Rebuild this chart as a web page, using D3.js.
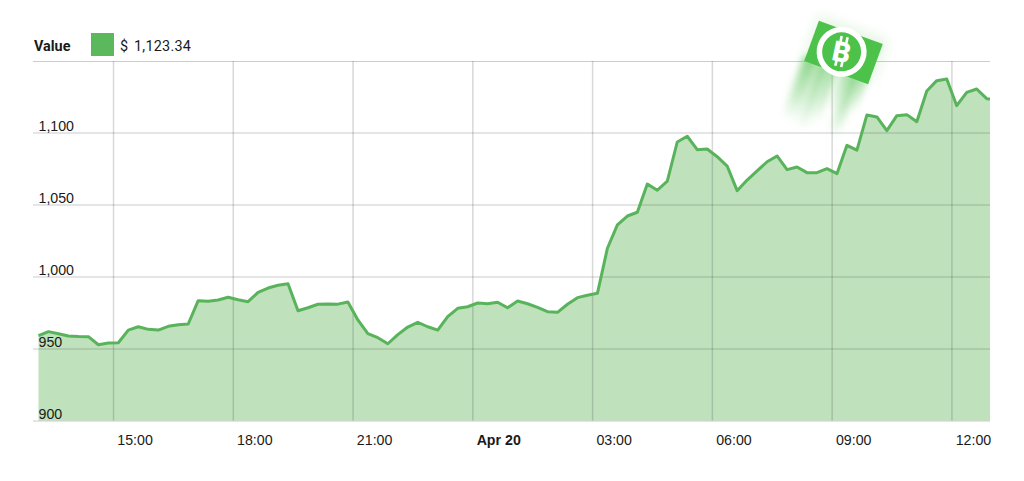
<!DOCTYPE html>
<html>
<head>
<meta charset="utf-8">
<title>Value</title>
<script src="https://cdn.jsdelivr.net/npm/d3@7"></script>
<style>
  html, body { margin: 0; background: #fff; }
  svg { display: block; font-family: Roboto, "Liberation Sans", sans-serif; }
  .axis text { font-size: 14.2px; fill: #1a1a1a; }
  .axis .domain { display: none; }
  .grid-x line { stroke: #3a3a3a; stroke-opacity: .2; stroke-width: 1.5; }
  .grid-y line { stroke: #3a3a3a; stroke-opacity: .26; stroke-width: 1.1; }
</style>
</head>
<body>
<svg id="chart" width="1024" height="481"></svg>
<script>
// readings, one every 15 minutes, plus the final quote
const times = [
  '19 13:08', '19 13:23', '19 13:38', '19 13:53',
  '19 14:08', '19 14:23', '19 14:38', '19 14:53',
  '19 15:08', '19 15:23', '19 15:38', '19 15:53',
  '19 16:08', '19 16:23', '19 16:38', '19 16:53',
  '19 17:08', '19 17:23', '19 17:38', '19 17:53',
  '19 18:08', '19 18:23', '19 18:38', '19 18:53',
  '19 19:08', '19 19:23', '19 19:38', '19 19:53',
  '19 20:08', '19 20:23', '19 20:38', '19 20:53',
  '19 21:08', '19 21:23', '19 21:38', '19 21:53',
  '19 22:08', '19 22:23', '19 22:38', '19 22:53',
  '19 23:08', '19 23:23', '19 23:38', '19 23:53',
  '20 00:08', '20 00:23', '20 00:38', '20 00:53',
  '20 01:08', '20 01:23', '20 01:38', '20 01:53',
  '20 02:08', '20 02:23', '20 02:38', '20 02:53',
  '20 03:08', '20 03:23', '20 03:38', '20 03:53',
  '20 04:08', '20 04:23', '20 04:38', '20 04:53',
  '20 05:08', '20 05:23', '20 05:38', '20 05:53',
  '20 06:08', '20 06:23', '20 06:38', '20 06:53',
  '20 07:08', '20 07:23', '20 07:38', '20 07:53',
  '20 08:08', '20 08:23', '20 08:38', '20 08:53',
  '20 09:08', '20 09:23', '20 09:38', '20 09:53',
  '20 10:08', '20 10:23', '20 10:38', '20 10:53',
  '20 11:08', '20 11:23', '20 11:38', '20 11:53',
  '20 12:08', '20 12:23', '20 12:38', '20 12:53',
  '20 12:58'
];
const values = [
  958.9, 961.7, 960.3, 958.7, 958.3, 958.2, 952.6, 953.8,
  954.0, 962.8, 965.1, 963.3, 962.8, 965.4, 966.5, 967.0,
  983.2, 982.8, 983.7, 985.6, 983.9, 982.5, 989.0, 992.0,
  993.9, 995.0, 976.2, 978.3, 980.7, 980.9, 980.8, 982.3,
  969.8, 960.3, 957.5, 953.3, 959.6, 964.9, 968.2, 965.1,
  962.8, 972.1, 977.9, 979.0, 981.6, 981.1, 982.1, 978.3,
  983.0, 981.1, 978.6, 975.6, 975.1, 980.7, 985.3, 987.0,
  988.3, 1019.6, 1035.8, 1042.0, 1044.6, 1064.2, 1059.9, 1066.3,
  1093.4, 1097.4, 1088.1, 1088.5, 1083.2, 1076.7, 1059.6, 1067.0,
  1073.3, 1079.7, 1083.7, 1074.2, 1076.0, 1072.1, 1072.1, 1074.9,
  1071.4, 1091.1, 1087.8, 1112.2, 1110.8, 1101.3, 1111.7, 1112.4,
  1107.5, 1128.8, 1136.0, 1137.2, 1118.6, 1127.9, 1130.2, 1123.5,
  1123.34
];
const xTicks = ['19 15:00', '19 18:00', '19 21:00', '20 00:00', '20 03:00', '20 06:00', '20 09:00', '20 12:00'];
const xLabels = ['15:00', '18:00', '21:00', 'Apr 20', '03:00', '06:00', '09:00', '12:00'];
const yTicks = [900, 950, 1000, 1050, 1100];
const yLabels = ['900', '950', '1,000', '1,050', '1,100'];
const yTop = 1149.65;                     // the unlabelled rule at the top of the plot
const legendName = 'Value';
const legendUnit = '$';
const legendValue = '1,123.34';

const C = { line: '#58b35b', fill: '#bfe2bc', swatch: '#5cb85c', logo: '#4dc24b', trail: '#62c660' };

const parse = d3.utcParse('%d %H:%M');
const rows = times.map((t, i) => ({ t: parse(t), v: values[i] }));
const m = { top: 61, right: 990, bottom: 420.5, left: 38.5 };

const svg = d3.select('#chart');
const x = d3.scaleUtc([rows[0].t, rows[rows.length - 1].t], [m.left, m.right]);
const y = d3.scaleLinear([900, yTop], [m.bottom, m.top]);

// area + line
svg.append('path').datum(rows).attr('fill', C.fill)
  .attr('d', d3.area().x(r => x(r.t)).y0(y(900)).y1(r => y(r.v)));

// grid goes over the fill, the lines show through it
const xAxis = svg.append('g').attr('class', 'axis grid-x').attr('transform', `translate(0,${m.bottom})`)
  .call(d3.axisBottom(x).tickValues(xTicks.map(parse)).tickSize(m.top - m.bottom)
    .tickFormat((d, i) => xLabels[i]));
xAxis.selectAll('text').attr('text-anchor', 'start').attr('x', 3.8).attr('y', 24).attr('dy', 0)
  .style('font-weight', (d, i) => xLabels[i] === 'Apr 20' ? 700 : 400);

const yAxis = svg.append('g').attr('class', 'axis grid-y').attr('transform', 'translate(33,0)')
  .call(d3.axisRight(y).tickValues(yTicks.concat(yTop)).tickSize(m.right - 33)
    .tickFormat((d, i) => yLabels[i] || ''));
yAxis.selectAll('text').attr('x', 5.5).attr('y', -2).attr('dy', 0);

svg.append('path').datum(rows).attr('fill', 'none').attr('stroke', C.line).attr('stroke-width', 3)
  .attr('stroke-linejoin', 'round')
  .attr('d', d3.line().x(r => x(r.t)).y(r => y(r.v)));

// legend
svg.append('text').attr('x', 34).attr('y', 50.5).style('font-size', '14.4px').style('font-weight', 700)
  .attr('fill', '#1a1a1a').text(legendName);
svg.append('rect').attr('x', 91).attr('y', 33).attr('width', 23).attr('height', 23).attr('fill', C.swatch);
svg.append('text').attr('x', 120).attr('y', 50.5).style('font-size', '14.4px')
  .attr('fill', '#1a1a1a').text(legendUnit);
svg.append('text').attr('x', 134).attr('y', 50.5).style('font-size', '14.4px').style('letter-spacing', '0.25px')
  .attr('fill', '#1a1a1a').text(legendValue);

// Bitcoin Cash logo pasted over the chart
const defs = svg.append('defs');
defs.append('filter').attr('id', 'blur').attr('x', '-60%').attr('y', '-60%').attr('width', '220%').attr('height', '220%')
  .append('feGaussianBlur').attr('stdDeviation', 3.6);
defs.append('filter').attr('id', 'halo').attr('x', '-60%').attr('y', '-60%').attr('width', '220%').attr('height', '220%')
  .append('feGaussianBlur').attr('stdDeviation', 6);
const grad = defs.append('linearGradient').attr('id', 'fade').attr('x1', 0).attr('y1', 0).attr('x2', 0).attr('y2', 1);
grad.append('stop').attr('offset', 0).attr('stop-color', C.trail).attr('stop-opacity', .75);
grad.append('stop').attr('offset', .55).attr('stop-color', C.trail).attr('stop-opacity', .38);
grad.append('stop').attr('offset', 1).attr('stop-color', C.trail).attr('stop-opacity', 0);

const logo = svg.append('g').attr('transform', 'translate(843.5,52.5) rotate(20)');
logo.append('rect').attr('x', -36).attr('y', -27).attr('width', 74).attr('height', 44)
  .attr('fill', C.trail).attr('opacity', .16).attr('filter', 'url(#halo)');
const trails = logo.append('g').attr('filter', 'url(#blur)');
[[-36, 15, 66], [-19, 10, 70], [-7, 7, 60], [6, 5, 44], [13, 11, 66], [26, 5, 38]].forEach(([tx, w, h]) => {
  trails.append('rect').attr('x', tx).attr('y', 16).attr('width', w).attr('height', h).attr('fill', 'url(#fade)');
});
logo.append('rect').attr('x', -34).attr('y', -21.5).attr('width', 68).attr('height', 43).attr('fill', C.logo);
logo.append('circle').attr('cx', -2).attr('cy', 0).attr('r', 25).attr('fill', '#fff');
logo.append('circle').attr('cx', -2).attr('cy', 0).attr('r', 19.5).attr('fill', C.logo);
const coin = logo.append('g').attr('transform', 'translate(-2,0) rotate(-8)');
coin.append('text').attr('text-anchor', 'middle').attr('y', 10).attr('fill', '#fff')
  .style('font-size', '28px').style('font-weight', 900).text('B');
[[-4.5, -15.5], [1.5, -15.5], [-4.5, 9], [1.5, 9]].forEach(([bx, by]) => {
  coin.append('rect').attr('x', bx).attr('y', by).attr('width', 2.6).attr('height', 6).attr('fill', '#fff');
});
</script>
</body>
</html>
